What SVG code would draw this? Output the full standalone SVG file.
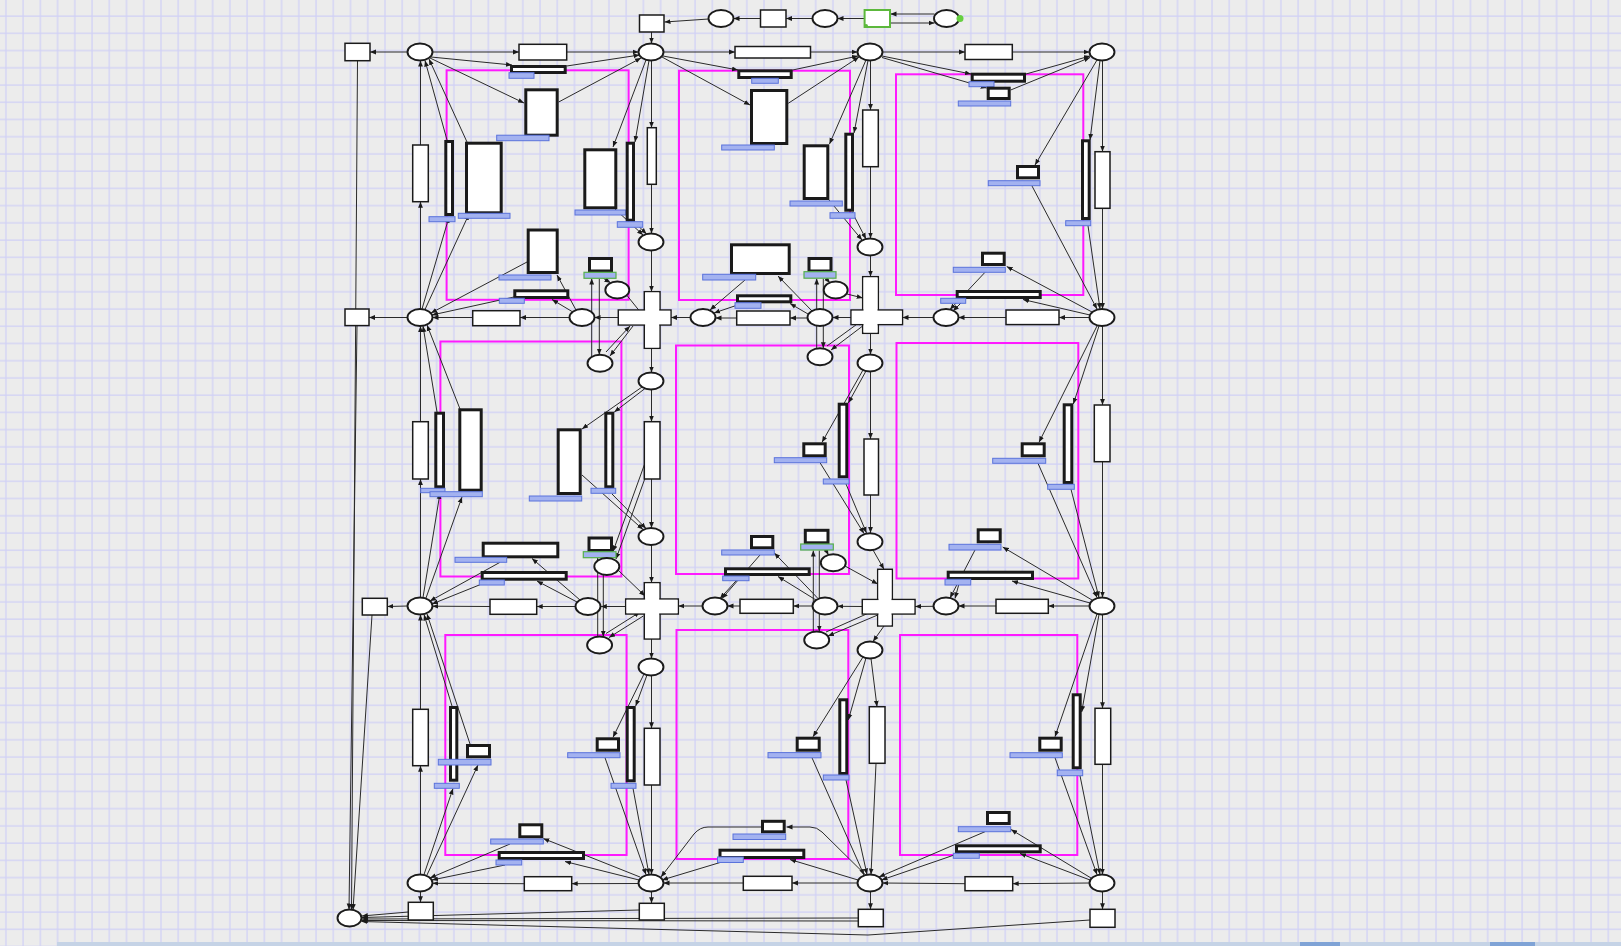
<svg xmlns="http://www.w3.org/2000/svg" width="1621" height="946" viewBox="0 0 1621 946">
<style>
.pl{fill:#fff;stroke:#1a1a1a;stroke-width:1.9}
.tr{fill:#fff;stroke:#1a1a1a;stroke-width:1.5}
.tk{fill:#fff;stroke:#1a1a1a;stroke-width:3}
.gt{fill:#fff;stroke:#5cb83c;stroke-width:2}
.lb{fill:#a3b2f0;stroke:#5a73db;stroke-width:1}
.lg{fill:#a3b2f0;stroke:#56b04a;stroke-width:1.2}
.mg{fill:none;stroke:#ff1aff;stroke-width:2}
.ar{fill:none;stroke:#2a2a2a;stroke-width:1;marker-end:url(#a)}
.ln{fill:none;stroke:#2a2a2a;stroke-width:1}
.wf{fill:#fff;stroke:none}
</style>
<defs>
<pattern id="grid" x="4.9" y="-2.2" width="17.23" height="17.23" patternUnits="userSpaceOnUse">
<path d="M0 1H17.23M1 0V17.23" stroke="#d0d0f6" stroke-width="1.2" fill="none"/>
</pattern>
<marker id="a" viewBox="0 0 10 10" refX="10" refY="5" markerWidth="6" markerHeight="6" orient="auto" markerUnits="userSpaceOnUse">
<path d="M0,1 L10,5 L0,9 z" fill="#1a1a1a"/>
</marker>
</defs>
<rect width="1621" height="946" fill="#ececec"/>
<rect width="1621" height="946" fill="url(#grid)"/>
<rect x="57" y="942" width="1564" height="4" fill="#c5d3e6"/>
<rect x="1300" y="942" width="40" height="4" fill="#7fa3d6"/>
<rect x="1490" y="942" width="45" height="4" fill="#7fa3d6"/>

<g id="regions">
<rect class="mg" x="446.6" y="70.3" width="182" height="229.5"/>
<rect class="mg" x="679" y="70.7" width="171" height="229.3"/>
<rect class="mg" x="896" y="74.3" width="187.3" height="220.7"/>
<rect class="mg" x="440.4" y="341.5" width="181" height="235"/>
<rect class="mg" x="676" y="345.5" width="173" height="228.5"/>
<rect class="mg" x="896.5" y="343" width="181.8" height="235.5"/>
<rect class="mg" x="445.3" y="635" width="181.3" height="220"/>
<rect class="mg" x="676.5" y="630" width="171.8" height="229"/>
<rect class="mg" x="900" y="635" width="177.3" height="220"/>
</g>

<g id="connectors">
<line class="ar" x1="708.6" y1="19" x2="664.5" y2="22"/>
<line class="ar" x1="760.5" y1="18.5" x2="733.5" y2="18.5"/>
<line class="ar" x1="812.5" y1="18.5" x2="786" y2="18.5"/>
<line class="ar" x1="864.6" y1="18.5" x2="837.5" y2="18.5"/>
<line class="ar" x1="934.5" y1="14" x2="890.5" y2="14"/>
<line class="ar" x1="890.5" y1="23" x2="934.5" y2="23"/>
<line class="ar" x1="651.5" y1="32" x2="651.5" y2="43.5"/>
<line class="ar" x1="407.5" y1="52" x2="370" y2="52"/>
<line class="ar" x1="432.5" y1="52" x2="519" y2="52"/>
<line class="ar" x1="566.7" y1="52" x2="638.5" y2="52"/>
<line class="ar" x1="663.5" y1="52" x2="735" y2="52"/>
<line class="ar" x1="810.5" y1="52" x2="857.5" y2="52"/>
<line class="ar" x1="882.5" y1="52" x2="965" y2="52"/>
<line class="ar" x1="1012.3" y1="52" x2="1089.5" y2="52"/>
<line class="ar" x1="431" y1="57" x2="512" y2="65"/>
<line class="ar" x1="566.7" y1="66" x2="639.5" y2="55"/>
<line class="ar" x1="430" y1="58" x2="524" y2="103"/>
<line class="ar" x1="558.7" y1="102" x2="641" y2="58"/>
<line class="ar" x1="447" y1="140" x2="425" y2="60.5"/>
<line class="ar" x1="467" y1="142" x2="429" y2="59"/>
<line class="ar" x1="422" y1="309" x2="449" y2="217"/>
<line class="ar" x1="425" y1="309.5" x2="469" y2="214"/>
<line class="ar" x1="646" y1="60" x2="613" y2="147"/>
<line class="ar" x1="649" y1="60.5" x2="635" y2="142"/>
<line class="ar" x1="615" y1="209" x2="643" y2="235"/>
<line class="ar" x1="634" y1="221.7" x2="646.5" y2="234"/>
<line class="ar" x1="651.5" y1="60.5" x2="651.5" y2="127.7"/>
<line class="ar" x1="651.5" y1="184.3" x2="651.5" y2="233.5"/>
<line class="ar" x1="651.5" y1="250.5" x2="651.5" y2="291.7"/>
<line class="ar" x1="527" y1="262" x2="431" y2="313"/>
<line class="ar" x1="576" y1="310" x2="557" y2="275"/>
<line class="ar" x1="572" y1="311.5" x2="552" y2="299.5"/>
<line class="ar" x1="514" y1="297" x2="432" y2="315"/>
<line class="ar" x1="569.5" y1="317.5" x2="520" y2="317.5"/>
<line class="ar" x1="472.7" y1="317.5" x2="432.5" y2="317.5"/>
<line class="ar" x1="407.5" y1="317.5" x2="369" y2="317.5"/>
<line class="ar" x1="618.3" y1="317.5" x2="594.5" y2="317.5"/>
<line class="ar" x1="690.5" y1="317.5" x2="671" y2="317.5"/>
<line class="ar" x1="420.5" y1="309" x2="420.5" y2="201.7"/>
<line class="ar" x1="420.5" y1="145" x2="420.5" y2="60.5"/>
<line class="ar" x1="591.7" y1="357" x2="591.7" y2="278.5"/>
<line class="ar" x1="599.3" y1="278.5" x2="599.3" y2="354.8"/>
<line class="ar" x1="603.3" y1="278.3" x2="610.5" y2="282.8"/>
<line class="ar" x1="627" y1="295.5" x2="643.5" y2="316"/>
<line class="ar" x1="633" y1="326" x2="610" y2="356"/>
<line class="ar" x1="606" y1="352" x2="630" y2="326"/>
<line class="ar" x1="663" y1="56" x2="738" y2="70"/>
<line class="ar" x1="792.7" y1="70" x2="858" y2="56"/>
<line class="ar" x1="662" y1="57" x2="750" y2="105"/>
<line class="ar" x1="788.3" y1="103.3" x2="859" y2="57"/>
<line class="ar" x1="866" y1="60" x2="829.5" y2="144"/>
<line class="ar" x1="868" y1="60.5" x2="854" y2="133"/>
<line class="ar" x1="829" y1="200" x2="862" y2="240"/>
<line class="ar" x1="852" y1="212" x2="866" y2="239"/>
<line class="ar" x1="870.5" y1="60.5" x2="870.5" y2="110"/>
<line class="ar" x1="870.5" y1="166.7" x2="870.5" y2="238.5"/>
<line class="ar" x1="870.5" y1="255.5" x2="870.5" y2="276.7"/>
<line class="ar" x1="745" y1="280" x2="710" y2="310"/>
<line class="ar" x1="812" y1="311" x2="778" y2="276"/>
<line class="ar" x1="808" y1="314" x2="790" y2="303.5"/>
<line class="ar" x1="742" y1="303.5" x2="714" y2="313"/>
<line class="ar" x1="807.5" y1="318" x2="790" y2="318"/>
<line class="ar" x1="736.7" y1="318" x2="715.5" y2="318"/>
<line class="ar" x1="851" y1="317.5" x2="832.5" y2="317.5"/>
<line class="ar" x1="933.5" y1="317.5" x2="902.5" y2="317.5"/>
<line class="ar" x1="816.7" y1="350" x2="816.7" y2="278.5"/>
<line class="ar" x1="823.3" y1="278.5" x2="823.3" y2="348.2"/>
<line class="ar" x1="826" y1="278.3" x2="830" y2="283"/>
<line class="ar" x1="847" y1="294" x2="862.7" y2="298"/>
<line class="ar" x1="862.7" y1="326" x2="831" y2="350"/>
<line class="ar" x1="827" y1="346" x2="862.7" y2="320"/>
<line class="ar" x1="882" y1="56" x2="971" y2="74"/>
<line class="ar" x1="1026" y1="74" x2="1090" y2="56"/>
<line class="ar" x1="882" y1="57.5" x2="986.7" y2="88"/>
<line class="ar" x1="1010.7" y1="90" x2="1090" y2="57.5"/>
<line class="ar" x1="1097" y1="60" x2="1035" y2="165"/>
<line class="ar" x1="1032" y1="186" x2="1097" y2="309"/>
<line class="ar" x1="1100" y1="60.5" x2="1090" y2="140"/>
<line class="ar" x1="1088" y1="225.7" x2="1100" y2="309"/>
<line class="ar" x1="1102.5" y1="60.5" x2="1102.5" y2="151.7"/>
<line class="ar" x1="1102.5" y1="208.3" x2="1102.5" y2="309"/>
<line class="ar" x1="985" y1="272.3" x2="950" y2="309.5"/>
<line class="ar" x1="1092" y1="312" x2="1006.7" y2="266.5"/>
<line class="ar" x1="1090" y1="315" x2="1023" y2="299.5"/>
<line class="ar" x1="965" y1="299" x2="953" y2="311"/>
<line class="ar" x1="1089.5" y1="317.5" x2="1059" y2="317.5"/>
<line class="ar" x1="1006" y1="317.5" x2="958.5" y2="317.5"/>
<line class="ar" x1="437" y1="412" x2="423" y2="326"/>
<line class="ar" x1="460" y1="409" x2="427" y2="325"/>
<line class="ar" x1="423" y1="597.5" x2="440" y2="493"/>
<line class="ar" x1="426" y1="598" x2="462" y2="497"/>
<line class="ar" x1="420.5" y1="597.5" x2="420.5" y2="479"/>
<line class="ar" x1="420.5" y1="421.7" x2="420.5" y2="326"/>
<line class="ar" x1="642" y1="387" x2="582" y2="429"/>
<line class="ar" x1="645" y1="388.5" x2="614.3" y2="412"/>
<line class="ar" x1="582" y1="475" x2="643" y2="529.5"/>
<line class="ar" x1="612" y1="494" x2="646" y2="528.5"/>
<line class="ar" x1="651.5" y1="348.3" x2="651.5" y2="372.5"/>
<line class="ar" x1="651.5" y1="389.5" x2="651.5" y2="421.7"/>
<line class="ar" x1="651.5" y1="479" x2="651.5" y2="528"/>
<line class="ar" x1="651.5" y1="545" x2="651.5" y2="582.7"/>
<line class="ar" x1="645" y1="463" x2="613" y2="551.5"/>
<line class="ar" x1="646.5" y1="474" x2="616" y2="559"/>
<line class="ar" x1="580" y1="600" x2="532" y2="558.5"/>
<line class="ar" x1="500" y1="562.3" x2="430" y2="601"/>
<line class="ar" x1="577" y1="602" x2="537" y2="581"/>
<line class="ar" x1="490" y1="580.7" x2="432" y2="604"/>
<line class="ar" x1="575.5" y1="606.5" x2="536.7" y2="606.5"/>
<line class="ar" x1="490" y1="606.5" x2="432.5" y2="606.2"/>
<line class="ar" x1="407.5" y1="606" x2="387.3" y2="606.5"/>
<line class="ar" x1="597.7" y1="637.5" x2="597.7" y2="558"/>
<line class="ar" x1="603.3" y1="558" x2="603.3" y2="636.8"/>
<line class="ar" x1="618" y1="570" x2="645" y2="596"/>
<line class="ar" x1="643.3" y1="616" x2="609" y2="637.5"/>
<line class="ar" x1="606" y1="633.5" x2="640" y2="612"/>
<line class="ar" x1="625.7" y1="606.5" x2="600.8" y2="606.5"/>
<line class="ar" x1="702.5" y1="606" x2="678.3" y2="606"/>
<line class="ar" x1="863" y1="370" x2="822" y2="442.3"/>
<line class="ar" x1="866" y1="371" x2="848.3" y2="403"/>
<line class="ar" x1="820" y1="462.7" x2="864" y2="533.5"/>
<line class="ar" x1="846" y1="484" x2="866.5" y2="533"/>
<line class="ar" x1="870.5" y1="333.3" x2="870.5" y2="354.5"/>
<line class="ar" x1="870.5" y1="371.5" x2="870.5" y2="439"/>
<line class="ar" x1="870.5" y1="495" x2="870.5" y2="533"/>
<line class="ar" x1="873" y1="550" x2="884" y2="569.3"/>
<line class="ar" x1="884" y1="626" x2="873" y2="641.5"/>
<line class="ar" x1="760" y1="555" x2="722" y2="598.5"/>
<line class="ar" x1="818" y1="598.5" x2="774.3" y2="553"/>
<line class="ar" x1="816" y1="600" x2="778" y2="576.5"/>
<line class="ar" x1="740" y1="576.5" x2="720" y2="598.5"/>
<line class="ar" x1="812.5" y1="606" x2="793.3" y2="606"/>
<line class="ar" x1="740" y1="606" x2="727.5" y2="606"/>
<line class="ar" x1="862.3" y1="606.5" x2="837.5" y2="606.3"/>
<line class="ar" x1="933.5" y1="606.3" x2="915" y2="606.5"/>
<line class="ar" x1="813.3" y1="632.5" x2="813.3" y2="550.5"/>
<line class="ar" x1="819.3" y1="550.5" x2="819.3" y2="631.5"/>
<line class="ar" x1="826" y1="550.3" x2="828.5" y2="555"/>
<line class="ar" x1="845" y1="566" x2="877.7" y2="584"/>
<line class="ar" x1="877.7" y1="615" x2="828" y2="636"/>
<line class="ar" x1="826" y1="632" x2="877.7" y2="609"/>
<line class="ar" x1="1097" y1="326" x2="1039" y2="442.3"/>
<line class="ar" x1="1099" y1="326" x2="1073.3" y2="404"/>
<line class="ar" x1="1038" y1="463.3" x2="1097" y2="597.5"/>
<line class="ar" x1="1071" y1="489.3" x2="1099" y2="597.5"/>
<line class="ar" x1="1102.5" y1="326" x2="1102.5" y2="405"/>
<line class="ar" x1="1102.5" y1="461.7" x2="1102.5" y2="597.5"/>
<line class="ar" x1="975" y1="550" x2="950" y2="598"/>
<line class="ar" x1="1092" y1="600" x2="1002.7" y2="547"/>
<line class="ar" x1="1090" y1="603" x2="1012" y2="581"/>
<line class="ar" x1="960" y1="580" x2="955" y2="598.5"/>
<line class="ar" x1="1089.5" y1="606" x2="1048.3" y2="606"/>
<line class="ar" x1="996" y1="606" x2="958.5" y2="606"/>
<line class="ar" x1="452" y1="706" x2="424" y2="614.5"/>
<line class="ar" x1="470" y1="744" x2="427" y2="614"/>
<line class="ar" x1="424" y1="874.5" x2="453" y2="788.5"/>
<line class="ar" x1="427" y1="875" x2="478" y2="765"/>
<line class="ar" x1="420.5" y1="874.5" x2="420.5" y2="765.7"/>
<line class="ar" x1="420.5" y1="709.3" x2="420.5" y2="614.5"/>
<line class="ar" x1="644" y1="674" x2="613" y2="737.3"/>
<line class="ar" x1="647" y1="675" x2="635.7" y2="706"/>
<line class="ar" x1="605" y1="757.7" x2="646" y2="874.5"/>
<line class="ar" x1="633" y1="788.3" x2="649" y2="874.5"/>
<line class="ar" x1="651.5" y1="639" x2="651.5" y2="658.5"/>
<line class="ar" x1="651.5" y1="675.5" x2="651.5" y2="728.3"/>
<line class="ar" x1="651.5" y1="785" x2="651.5" y2="874.5"/>
<line class="ar" x1="640" y1="877" x2="543.3" y2="838.5"/>
<line class="ar" x1="510" y1="844" x2="430" y2="878"/>
<line class="ar" x1="639" y1="880" x2="565" y2="861.5"/>
<line class="ar" x1="505" y1="865" x2="432" y2="880"/>
<line class="ar" x1="638.5" y1="883.5" x2="571.7" y2="883.7"/>
<line class="ar" x1="524.3" y1="883.7" x2="432.5" y2="883.3"/>
<line class="ar" x1="863" y1="657" x2="813" y2="736.7"/>
<line class="ar" x1="866" y1="658" x2="848.3" y2="720"/>
<line class="ar" x1="812" y1="757.8" x2="864" y2="875"/>
<line class="ar" x1="846" y1="780" x2="867" y2="874.5"/>
<line class="ar" x1="871" y1="658.5" x2="877" y2="706.7"/>
<line class="ar" x1="876" y1="763.3" x2="871" y2="874.5"/>
<path class="ar" d="M761,827 L708,827 Q700,827 694,834 L661,877"/>
<path class="ar" d="M866.7,876 L822,832 Q817,827 810,827 L786.5,827"/>
<line class="ar" x1="858" y1="880" x2="790" y2="859.5"/>
<line class="ar" x1="730" y1="859.5" x2="662" y2="880"/>
<line class="ar" x1="857.5" y1="883" x2="792" y2="883"/>
<line class="ar" x1="743.3" y1="883" x2="663.5" y2="883"/>
<line class="ar" x1="1097" y1="614" x2="1055" y2="736.7"/>
<line class="ar" x1="1099" y1="614.5" x2="1081.7" y2="712"/>
<line class="ar" x1="1055" y1="757.7" x2="1097" y2="874.5"/>
<line class="ar" x1="1080" y1="775.7" x2="1100" y2="874.5"/>
<line class="ar" x1="1102.5" y1="614.5" x2="1102.5" y2="708.3"/>
<line class="ar" x1="1102.5" y1="764.3" x2="1102.5" y2="874.5"/>
<line class="ar" x1="985" y1="831.7" x2="879" y2="877"/>
<line class="ar" x1="1091" y1="878" x2="1011" y2="829.5"/>
<line class="ar" x1="1090" y1="880" x2="1020" y2="853.5"/>
<line class="ar" x1="960" y1="853" x2="881.5" y2="880"/>
<line class="ar" x1="1089.5" y1="883" x2="1012.7" y2="883.7"/>
<line class="ar" x1="965" y1="883.7" x2="882.5" y2="883"/>
<line class="ar" x1="420.5" y1="891.5" x2="420.5" y2="902.3"/>
<line class="ar" x1="651.5" y1="891.5" x2="651.5" y2="903.3"/>
<line class="ar" x1="870.5" y1="891.5" x2="870.5" y2="909.3"/>
<line class="ar" x1="1102.5" y1="891.5" x2="1102.5" y2="909.3"/>
<line class="ar" x1="408.3" y1="912" x2="361.8" y2="916"/>
<line class="ar" x1="639.3" y1="910" x2="362" y2="917.5"/>
<line class="ar" x1="858.3" y1="918" x2="362" y2="919"/>
<line class="ar" x1="858.3" y1="921" x2="362" y2="920.5"/>
<polyline class="ar" points="1090,920 868,935 361.5,921.5"/>
<line class="ar" x1="357.5" y1="60.7" x2="351.5" y2="909.6"/>
<line class="ar" x1="357" y1="325.6" x2="349" y2="909.5"/>
<line class="ar" x1="372" y1="615" x2="353" y2="910"/>
</g>

<g id="top-nodes">
<g id="t-start"><rect class="tr" x="639.5" y="15" width="24.5" height="17"/></g>
<g id="p-top1"><ellipse class="pl" cx="721" cy="18.5" rx="12.5" ry="8.5"/></g>
<g id="t-top2"><rect class="tr" x="760.5" y="10" width="25.5" height="17"/></g>
<g id="p-top2"><ellipse class="pl" cx="825" cy="18.5" rx="12.5" ry="8.5"/></g>
<g id="t-top3"><rect class="gt" x="864.6" y="10" width="25.4" height="17"/><circle cx="866" cy="26" r="2" fill="#5cb83c"/></g>
<g id="p-top3"><ellipse class="pl" cx="946.5" cy="18.5" rx="12.5" ry="8.5"/><circle cx="960" cy="18.5" r="3.5" fill="#66d040"/></g>
</g>

<g id="places">
<g id="p11"><ellipse class="pl" cx="420" cy="52" rx="12.5" ry="8.5"/></g>
<g id="p12"><ellipse class="pl" cx="651" cy="52" rx="12.5" ry="8.5"/></g>
<g id="p13"><ellipse class="pl" cx="870" cy="52" rx="12.5" ry="8.5"/></g>
<g id="p14"><ellipse class="pl" cx="1102" cy="52" rx="12.5" ry="8.5"/></g>
<g id="p21"><ellipse class="pl" cx="420" cy="317.5" rx="12.5" ry="8.5"/></g>
<g id="q21"><ellipse class="pl" cx="582" cy="317.5" rx="12.5" ry="8.5"/></g>
<g id="q22a"><ellipse class="pl" cx="703" cy="317.5" rx="12.5" ry="8.5"/></g>
<g id="q22b"><ellipse class="pl" cx="820" cy="317.5" rx="12.5" ry="8.5"/></g>
<g id="q23"><ellipse class="pl" cx="946" cy="317.5" rx="12.5" ry="8.5"/></g>
<g id="p24"><ellipse class="pl" cx="1102" cy="317.5" rx="12.5" ry="8.5"/></g>
<g id="p31"><ellipse class="pl" cx="420" cy="606" rx="12.5" ry="8.5"/></g>
<g id="q31"><ellipse class="pl" cx="588" cy="606.5" rx="12.5" ry="8.5"/></g>
<g id="q32a"><ellipse class="pl" cx="715" cy="606" rx="12.5" ry="8.5"/></g>
<g id="q32b"><ellipse class="pl" cx="825" cy="606" rx="12.5" ry="8.5"/></g>
<g id="q33"><ellipse class="pl" cx="946" cy="606" rx="12.5" ry="8.5"/></g>
<g id="p34"><ellipse class="pl" cx="1102" cy="606" rx="12.5" ry="8.5"/></g>
<g id="p41"><ellipse class="pl" cx="420" cy="883" rx="12.5" ry="8.5"/></g>
<g id="p42"><ellipse class="pl" cx="651" cy="883" rx="12.5" ry="8.5"/></g>
<g id="p43"><ellipse class="pl" cx="870" cy="883" rx="12.5" ry="8.5"/></g>
<g id="p44"><ellipse class="pl" cx="1102" cy="883" rx="12.5" ry="8.5"/></g>
<g id="v1"><ellipse class="pl" cx="651" cy="242" rx="12.5" ry="8.5"/></g>
<g id="v2"><ellipse class="pl" cx="651" cy="381" rx="12.5" ry="8.5"/></g>
<g id="v3"><ellipse class="pl" cx="651" cy="536.5" rx="12.5" ry="8.5"/></g>
<g id="v4"><ellipse class="pl" cx="651" cy="667" rx="12.5" ry="8.5"/></g>
<g id="w1"><ellipse class="pl" cx="870" cy="247" rx="12.5" ry="8.5"/></g>
<g id="w2"><ellipse class="pl" cx="870" cy="363" rx="12.5" ry="8.5"/></g>
<g id="w3"><ellipse class="pl" cx="870" cy="541.7" rx="12.5" ry="8.5"/></g>
<g id="w4"><ellipse class="pl" cx="870" cy="650" rx="12.5" ry="8.5"/></g>
<g id="b0"><ellipse class="pl" cx="349.5" cy="918" rx="12" ry="8.5"/></g>
</g>

<g id="line-transitions">
<g id="r1a"><rect class="tr" x="519" y="44.3" width="47.7" height="15.7"/></g>
<g id="r1b"><rect class="tr" x="735" y="46.5" width="75.5" height="11.5"/></g>
<g id="r1c"><rect class="tr" x="965" y="44.5" width="47.3" height="15"/></g>
<g id="l1"><rect class="tr" x="345" y="43.3" width="25" height="17.4"/></g>
<g id="l2"><rect class="tr" x="345" y="309" width="24" height="16.6"/></g>
<g id="l3"><rect class="tr" x="362.3" y="598.3" width="25" height="16.7"/></g>
<g id="r2a"><rect class="tr" x="472.7" y="310.7" width="47.3" height="15"/></g>
<g id="r2b"><rect class="tr" x="736.7" y="311" width="53.3" height="14"/></g>
<g id="r2c"><rect class="tr" x="1006" y="310" width="53" height="14.6"/></g>
<g id="r3a"><rect class="tr" x="490" y="599.3" width="46.7" height="15"/></g>
<g id="r3b"><rect class="tr" x="740" y="599.3" width="53.3" height="14"/></g>
<g id="r3c"><rect class="tr" x="996" y="599.3" width="52.3" height="14"/></g>
<g id="r4a"><rect class="tr" x="524.3" y="876.7" width="47.4" height="14"/></g>
<g id="r4b"><rect class="tr" x="743.3" y="876.3" width="48.7" height="14"/></g>
<g id="r4c"><rect class="tr" x="965" y="876.7" width="47.7" height="14"/></g>
<g id="c1a"><rect class="tr" x="412.7" y="145" width="15.6" height="56.7"/></g>
<g id="c1b"><rect class="tr" x="412.7" y="421.7" width="15.6" height="57.3"/></g>
<g id="c1c"><rect class="tr" x="412.7" y="709.3" width="15.6" height="56.4"/></g>
<g id="c2a"><rect class="tr" x="647.3" y="127.7" width="9" height="56.6"/></g>
<g id="c2b"><rect class="tr" x="644.3" y="421.7" width="15.7" height="57.3"/></g>
<g id="c2c"><rect class="tr" x="644.3" y="728.3" width="15.7" height="56.7"/></g>
<g id="c3a"><rect class="tr" x="862.7" y="110" width="15.6" height="56.7"/></g>
<g id="c3b"><rect class="tr" x="864" y="439" width="14.5" height="56"/></g>
<g id="c3c"><rect class="tr" x="869.3" y="706.7" width="15.7" height="56.6"/></g>
<g id="c4a"><rect class="tr" x="1095" y="151.7" width="15" height="56.6"/></g>
<g id="c4b"><rect class="tr" x="1094.3" y="405" width="15.7" height="56.7"/></g>
<g id="c4c"><rect class="tr" x="1095" y="708.3" width="15.7" height="56"/></g>
<g id="bt1"><rect class="tr" x="408.3" y="902.3" width="25" height="17.7"/></g>
<g id="bt2"><rect class="tr" x="639.3" y="903.3" width="25" height="16.7"/></g>
<g id="bt3"><rect class="tr" x="858.3" y="909.3" width="25" height="17.4"/></g>
<g id="bt4"><rect class="tr" x="1090" y="909.3" width="25" height="18"/></g>
</g>

<g id="crosses">
<g id="crossA">
<rect class="tr" x="644.3" y="291.7" width="15.7" height="56.6"/>
<rect class="tr" x="618.3" y="310" width="52.7" height="15"/>
<rect class="wf" x="645.1" y="292.5" width="14.1" height="55"/>
<rect class="wf" x="619.1" y="310.8" width="51.1" height="13.4"/>
</g>
<g id="crossB">
<rect class="tr" x="862.7" y="276.7" width="15.6" height="56.6"/>
<rect class="tr" x="851" y="310" width="51.5" height="14.6"/>
<rect class="wf" x="863.5" y="277.5" width="14" height="55"/>
<rect class="wf" x="851.8" y="310.8" width="49.9" height="13"/>
</g>
<g id="crossC">
<rect class="tr" x="644.3" y="582.7" width="15.7" height="56.3"/>
<rect class="tr" x="625.7" y="599" width="52.6" height="15"/>
<rect class="wf" x="645.1" y="583.5" width="14.1" height="54.7"/>
<rect class="wf" x="626.5" y="599.8" width="51" height="13.4"/>
</g>
<g id="crossD">
<rect class="tr" x="877.7" y="569.3" width="14.6" height="56.7"/>
<rect class="tr" x="862.3" y="599.5" width="52.7" height="14.5"/>
<rect class="wf" x="878.5" y="570.1" width="13" height="55.1"/>
<rect class="wf" x="863.1" y="600.3" width="51.1" height="12.9"/>
</g>
<g id="gA"><rect class="tk" x="589.5" y="258.5" width="22" height="12.5"/><rect class="lg" x="584" y="272.3" width="32" height="6"/></g>
<g id="uA"><ellipse class="pl" cx="617.3" cy="290" rx="12" ry="8.5"/></g>
<g id="lA"><ellipse class="pl" cx="600" cy="363.3" rx="12.5" ry="8.5"/></g>
<g id="gB"><rect class="tk" x="809" y="258.5" width="22" height="12.5"/><rect class="lg" x="804" y="271.7" width="32" height="6.5"/></g>
<g id="uB"><ellipse class="pl" cx="835.7" cy="290" rx="12" ry="8.5"/></g>
<g id="lB"><ellipse class="pl" cx="820" cy="356.7" rx="12.5" ry="8.5"/></g>
<g id="gC"><rect class="tk" x="589" y="538" width="22.5" height="12.5"/><rect class="lg" x="583.3" y="551.7" width="32.7" height="6"/></g>
<g id="uC"><ellipse class="pl" cx="606.8" cy="566.5" rx="12.5" ry="8.5"/></g>
<g id="lC"><ellipse class="pl" cx="599.6" cy="645" rx="12.5" ry="8.5"/></g>
<g id="gD"><rect class="tk" x="805.3" y="530.3" width="22.7" height="12.5"/><rect class="lg" x="800.7" y="544" width="32.6" height="6"/></g>
<g id="uD"><ellipse class="pl" cx="833.3" cy="562.7" rx="12.5" ry="8.5"/></g>
<g id="lD"><ellipse class="pl" cx="816.7" cy="640" rx="12.5" ry="8.5"/></g>
</g>

<g id="cell-transitions">
<g id="k11a"><rect class="tk" x="511.5" y="66.5" width="53.7" height="6"/><rect class="lb" x="509" y="72.7" width="25" height="5.6"/></g>
<g id="k11b"><rect class="tk" x="525.8" y="89.8" width="31.4" height="45.4"/><rect class="lb" x="496.7" y="135.2" width="52.3" height="5.5"/></g>
<g id="k11c"><rect class="tk" x="445.8" y="141.5" width="6.7" height="73"/><rect class="lb" x="429" y="216.7" width="26" height="5"/></g>
<g id="k11d"><rect class="tk" x="466.5" y="143.2" width="34.7" height="69.6"/><rect class="lb" x="458.3" y="213.3" width="51.7" height="5"/></g>
<g id="k11e"><rect class="tk" x="584.8" y="149.8" width="31" height="58"/><rect class="lb" x="575" y="210" width="50.7" height="5"/></g>
<g id="k11f"><rect class="tk" x="627.2" y="143.2" width="6.3" height="77"/><rect class="lb" x="617.3" y="221.7" width="25.4" height="5.6"/></g>
<g id="k11g"><rect class="tk" x="528.2" y="230" width="29" height="42.5"/><rect class="lb" x="499" y="275" width="52" height="5"/></g>
<g id="k11h"><rect class="tk" x="514.8" y="290.8" width="53" height="6.7"/><rect class="lb" x="499.3" y="298.3" width="25" height="5"/></g>
<g id="k12a"><rect class="tk" x="738.8" y="70.8" width="52.4" height="6.7"/><rect class="lb" x="751.7" y="78.3" width="26.6" height="5"/></g>
<g id="k12b"><rect class="tk" x="751.5" y="90.5" width="35.3" height="53"/><rect class="lb" x="721.7" y="145" width="52.6" height="5"/></g>
<g id="k12c"><rect class="tk" x="804.2" y="145.8" width="23.6" height="52.7"/><rect class="lb" x="790" y="201" width="52.3" height="5"/></g>
<g id="k12d"><rect class="tk" x="845.8" y="134.2" width="6.7" height="76"/><rect class="lb" x="830" y="212.7" width="25" height="5.6"/></g>
<g id="k12e"><rect class="tk" x="731.5" y="244.8" width="57.7" height="28.7"/><rect class="lb" x="702.7" y="274.3" width="53" height="5.7"/></g>
<g id="k12f"><rect class="tk" x="737.5" y="295.8" width="53.3" height="6"/><rect class="lb" x="735" y="302.7" width="26" height="5.6"/></g>
<g id="k13a"><rect class="tk" x="972.2" y="74.2" width="52.3" height="7"/><rect class="lb" x="969" y="81.7" width="25" height="5"/></g>
<g id="k13b"><rect class="tk" x="988.2" y="88.2" width="21" height="10.3"/><rect class="lb" x="958.3" y="101" width="52.4" height="5"/></g>
<g id="k13c"><rect class="tk" x="1017.5" y="166.5" width="21" height="11.3"/><rect class="lb" x="988.3" y="180.7" width="51.7" height="5"/></g>
<g id="k13d"><rect class="tk" x="1082.5" y="140.8" width="6.7" height="77.7"/><rect class="lb" x="1065.7" y="220.7" width="25" height="5"/></g>
<g id="k13e"><rect class="tk" x="982.5" y="253.2" width="21.7" height="11.3"/><rect class="lb" x="953.3" y="267.3" width="52" height="5"/></g>
<g id="k13f"><rect class="tk" x="957.2" y="291.5" width="83" height="6"/><rect class="lb" x="940.7" y="298.3" width="25" height="5"/></g>
<g id="k21a"><rect class="tk" x="435.8" y="413.2" width="7.7" height="73.6"/><rect class="lb" x="420.7" y="488.3" width="24.3" height="4.4"/></g>
<g id="k21b"><rect class="tk" x="459.8" y="409.8" width="21.4" height="80.4"/><rect class="lb" x="430" y="491.7" width="52.3" height="5"/></g>
<g id="k21c"><rect class="tk" x="558.2" y="429.8" width="22" height="63.7"/><rect class="lb" x="529.3" y="496" width="52.4" height="5"/></g>
<g id="k21d"><rect class="tk" x="605.8" y="413.2" width="7" height="73.6"/><rect class="lb" x="591" y="488.3" width="24.7" height="5"/></g>
<g id="k21e"><rect class="tk" x="483.2" y="543.2" width="74.6" height="13.6"/><rect class="lb" x="455" y="557.3" width="51.7" height="5"/></g>
<g id="k21f"><rect class="tk" x="482.2" y="572.5" width="84" height="6.7"/><rect class="lb" x="479.3" y="580" width="25" height="5"/></g>
<g id="k22a"><rect class="tk" x="839.2" y="404.2" width="7.6" height="72.6"/><rect class="lb" x="823.3" y="479" width="25.7" height="5"/></g>
<g id="k22b"><rect class="tk" x="803.8" y="443.8" width="21.4" height="12"/><rect class="lb" x="774.3" y="457.7" width="52.4" height="5"/></g>
<g id="k22c"><rect class="tk" x="751.5" y="536.5" width="21.3" height="11.3"/><rect class="lb" x="721.7" y="550" width="52.6" height="5"/></g>
<g id="k22d"><rect class="tk" x="725.5" y="568.8" width="83.7" height="5.7"/><rect class="lb" x="722.7" y="576" width="26.3" height="4.7"/></g>
<g id="k23a"><rect class="tk" x="1022.2" y="443.8" width="22" height="12"/><rect class="lb" x="992.7" y="458.3" width="53" height="5"/></g>
<g id="k23b"><rect class="tk" x="1064.2" y="404.8" width="7.6" height="77.7"/><rect class="lb" x="1047.7" y="484.3" width="26.6" height="5"/></g>
<g id="k23c"><rect class="tk" x="978.2" y="529.8" width="22" height="12"/><rect class="lb" x="949" y="544.3" width="52" height="5.7"/></g>
<g id="k23d"><rect class="tk" x="948.2" y="572.2" width="84.3" height="6.3"/><rect class="lb" x="945" y="579.3" width="25.7" height="5.7"/></g>
<g id="k31a"><rect class="tk" x="450.5" y="707.5" width="6.3" height="72.7"/><rect class="lb" x="434.3" y="783.3" width="25" height="5"/></g>
<g id="k31b"><rect class="tk" x="467.5" y="745.5" width="22" height="11.3"/><rect class="lb" x="438.3" y="759.3" width="52.7" height="5.7"/></g>
<g id="k31c"><rect class="tk" x="597.2" y="738.8" width="21.3" height="11.4"/><rect class="lb" x="567.7" y="752.7" width="52.3" height="5"/></g>
<g id="k31d"><rect class="tk" x="627.2" y="707.5" width="7" height="73.3"/><rect class="lb" x="611" y="783.3" width="25" height="5"/></g>
<g id="k31e"><rect class="tk" x="519.8" y="824.8" width="22" height="12"/><rect class="lb" x="490.7" y="839" width="52.6" height="5"/></g>
<g id="k31f"><rect class="tk" x="499.2" y="852.5" width="84.3" height="6"/><rect class="lb" x="496" y="860" width="25.7" height="5"/></g>
<g id="k32a"><rect class="tk" x="839.8" y="699.8" width="7" height="73.7"/><rect class="lb" x="823.3" y="775" width="25.7" height="5"/></g>
<g id="k32b"><rect class="tk" x="797.2" y="738.2" width="22" height="12"/><rect class="lb" x="768" y="752.6" width="53" height="5.2"/></g>
<g id="k32c"><rect class="tk" x="762.5" y="821.3" width="21.7" height="10.5"/><rect class="lb" x="733" y="834" width="52.7" height="5.5"/></g>
<g id="k32d"><rect class="tk" x="720" y="850.2" width="83.8" height="7.3"/><rect class="lb" x="717.5" y="857" width="25.8" height="5.5"/></g>
<g id="k33a"><rect class="tk" x="1039.8" y="738.2" width="21.4" height="12"/><rect class="lb" x="1010" y="752.7" width="52.3" height="5"/></g>
<g id="k33b"><rect class="tk" x="1073.2" y="694.8" width="7" height="73"/><rect class="lb" x="1057.3" y="770" width="25.4" height="5.7"/></g>
<g id="k33c"><rect class="tk" x="987.5" y="812.5" width="21.7" height="11"/><rect class="lb" x="958.3" y="826.7" width="52.4" height="5"/></g>
<g id="k33d"><rect class="tk" x="956.5" y="845.8" width="83.7" height="6"/><rect class="lb" x="953.3" y="853.3" width="26" height="5"/></g>
</g>
</svg>
